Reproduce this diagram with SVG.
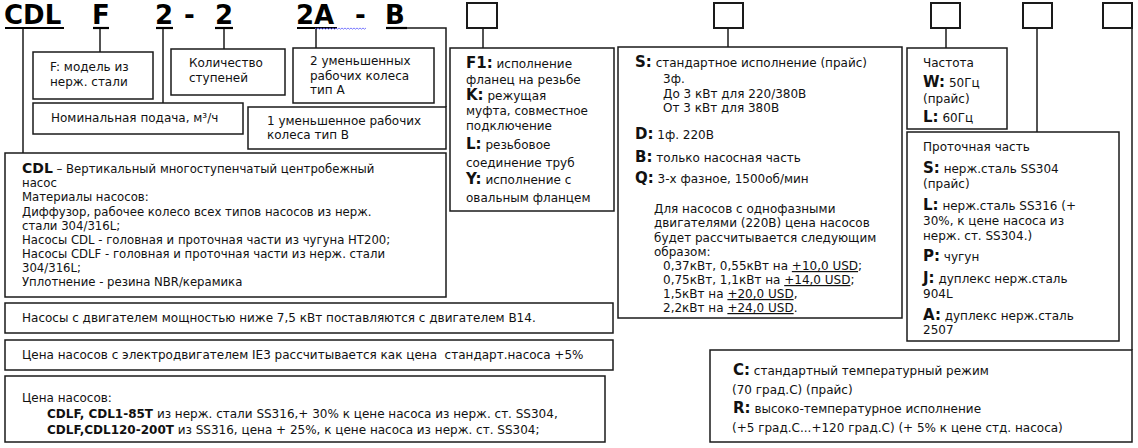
<svg xmlns="http://www.w3.org/2000/svg" width="1138" height="448" viewBox="0 0 1138 448">
<style>
  .bx{fill:#fff;stroke:#1a1a1a;stroke-width:1.5}
  .sq{fill:#fff;stroke:#1a1a1a;stroke-width:2}
  .ln{fill:none;stroke:#1a1a1a;stroke-width:1.5}
  .ul{fill:none;stroke:#000;stroke-width:2.2}
  text{font-family:"DejaVu Sans","Liberation Sans",sans-serif;font-size:12px;fill:#111}
  .hd{font-size:26px;font-weight:bold;fill:#000}
  .sm{font-size:11.7px}
  .b{font-weight:bold;font-size:15px}
  .bs{font-weight:bold;font-size:14px}
  .u{text-decoration:underline}
</style>
<rect width="1138" height="448" fill="#fff"/>

<g id="header">
  <text class="hd" x="4" y="24">CDL</text>
  <text class="hd" x="92" y="24">F</text>
  <text class="hd" x="155" y="24">2</text>
  <text class="hd" x="184" y="24">-</text>
  <text class="hd" x="215" y="24">2</text>
  <text class="hd" x="296" y="24">2A</text>
  <text class="hd" x="355" y="24">-</text>
  <text class="hd" x="385" y="24">B</text>
  <line class="ul" x1="5" y1="28" x2="64" y2="28"/>
  <line class="ul" x1="93" y1="28" x2="109" y2="28"/>
  <line class="ul" x1="156" y1="28" x2="173" y2="28"/>
  <line class="ul" x1="215" y1="28" x2="233" y2="28"/>
  <line class="ul" x1="297" y1="28" x2="337" y2="28"/>
  <line class="ul" x1="386" y1="28" x2="407" y2="28"/>
  <path d="M315 28 l1.5 1.2 l1.5 -1.2 l1.5 1.2 l1.5 -1.2 l1.5 1.2 l1.5 -1.2 l1.5 1.2 l1.5 -1.2 l1.5 1.2 l1.5 -1.2 l1.5 1.2 l1.5 -1.2 l1.5 1.2 l1.5 -1.2 l1.5 1.2 l1.5 -1.2 l1.5 1.2 l1.5 -1.2 l1.5 1.2 l1.5 -1.2 l1.5 1.2 l1.5 -1.2 l1.5 1.2 l1.5 -1.2 l1.5 1.2 l1.5 -1.2 l1.5 1.2 l1.5 -1.2 l1.5 1.2 l1.5 -1.2 l1.5 1.2 l1.5 -1.2 l1.5 1.2 l1.5 -1.2" fill="none" stroke="#6b6bff" stroke-width="0.9"/>
  <rect class="sq" x="467" y="3" width="30" height="25"/>
  <rect class="sq" x="714" y="3" width="29" height="25"/>
  <rect class="sq" x="931" y="3" width="29" height="25"/>
  <rect class="sq" x="1023" y="3" width="29" height="25"/>
  <rect class="sq" x="1103" y="3" width="29" height="25"/>
</g>

<g id="connectors">
  <line class="ln" x1="23" y1="29" x2="23" y2="153"/>
  <line class="ln" x1="100" y1="29" x2="100" y2="52"/>
  <line class="ln" x1="163" y1="29" x2="163" y2="103"/>
  <line class="ln" x1="224" y1="29" x2="224" y2="49"/>
  <line class="ln" x1="316" y1="29" x2="316" y2="48"/>
  <polyline class="ln" points="407,28 446,28 446,107"/>
  <line class="ln" x1="483" y1="28" x2="483" y2="48"/>
  <line class="ln" x1="728" y1="28" x2="728" y2="47"/>
  <line class="ln" x1="946" y1="28" x2="946" y2="48"/>
  <line class="ln" x1="1037" y1="28" x2="1037" y2="132"/>
  <line class="ln" x1="1132" y1="28" x2="1132" y2="350"/>
</g>

<g id="node-f">
  <rect class="bx" x="33" y="52" width="120" height="47"/>
  <text x="50" y="71">F: модель из</text>
  <text x="50" y="86">нерж. стали</text>
</g>
<g id="node-stages">
  <rect class="bx" x="171" y="49" width="114" height="46"/>
  <text x="189" y="67">Количество</text>
  <text x="189" y="82">ступеней</text>
</g>
<g id="node-2a">
  <rect class="bx" x="293" y="48" width="141" height="55"/>
  <text x="310" y="65">2 уменьшенных</text>
  <text x="310" y="80">рабочих колеса</text>
  <text x="310" y="94">тип А</text>
</g>
<g id="node-flow">
  <rect class="bx" x="33" y="103" width="210" height="31"/>
  <text x="51" y="122">Номинальная подача, м³/ч</text>
</g>
<g id="node-1b">
  <rect class="bx" x="248" y="107" width="198" height="42"/>
  <text x="267" y="125">1 уменьшенное рабочих</text>
  <text x="267" y="139">колеса тип В</text>
</g>
<g id="node-cdl">
  <rect class="bx" x="5" y="153" width="441" height="144"/>
  <text class="sm" x="22" y="173"><tspan class="bs">CDL</tspan> – Вертикальный многоступенчатый центробежный</text>
  <text class="sm" x="22" y="187">насос</text>
  <text class="sm" x="22" y="201">Материалы насосов:</text>
  <text class="sm" x="22" y="216">Диффузор, рабочее колесо всех типов насосов из нерж.</text>
  <text class="sm" x="22" y="230">стали 304/316L;</text>
  <text class="sm" x="22" y="244">Насосы CDL - головная и проточная части из чугуна HT200;</text>
  <text class="sm" x="22" y="258">Насосы CDLF - головная и проточная части из нерж. стали</text>
  <text class="sm" x="22" y="272">304/316L;</text>
  <text class="sm" x="22" y="286">Уплотнение - резина NBR/керамика</text>
</g>
<g id="node-connection">
  <rect class="bx" x="450" y="48" width="164" height="163"/>
  <text x="466" y="68"><tspan class="b">F1:</tspan> исполнение</text>
  <text x="466" y="84">фланец на резьбе</text>
  <text x="466" y="100"><tspan class="b">K:</tspan> режущая</text>
  <text x="466" y="115">муфта, совместное</text>
  <text x="466" y="130">подключение</text>
  <text x="466" y="149"><tspan class="b">L:</tspan> резьбовое</text>
  <text x="466" y="167">соединение труб</text>
  <text x="466" y="184"><tspan class="b">Y:</tspan> исполнение с</text>
  <text x="466" y="202">овальным фланцем</text>
</g>
<g id="node-motor">
  <rect class="bx" x="618" y="47" width="284" height="271"/>
  <text x="635" y="67"><tspan class="b">S:</tspan> стандартное исполнение (прайс)</text>
  <text x="663" y="83">3ф.</text>
  <text x="663" y="98">До 3 кВт для 220/380В</text>
  <text x="663" y="112">От 3 кВт для 380В</text>
  <text x="635" y="139"><tspan class="b">D:</tspan> 1ф. 220В</text>
  <text x="635" y="162"><tspan class="b">B:</tspan> только насосная часть</text>
  <text x="635" y="183"><tspan class="b">Q:</tspan> 3-х фазное, 1500об/мин</text>
  <text x="654" y="213">Для насосов с однофазными</text>
  <text x="654" y="227">двигателями (220В) цена насосов</text>
  <text x="654" y="242">будет рассчитывается следующим</text>
  <text x="654" y="256">образом:</text>
  <text x="663" y="270">0,37кВт, 0,55кВт на <tspan class="u">+10,0 USD</tspan>;</text>
  <text x="663" y="284">0,75кВт, 1,1кВт на <tspan class="u">+14,0 USD</tspan>;</text>
  <text x="663" y="298">1,5кВт на <tspan class="u">+20,0 USD</tspan>,</text>
  <text x="663" y="312">2,2кВт на <tspan class="u">+24,0 USD</tspan>.</text>
</g>
<g id="node-frequency">
  <rect class="bx" x="907" y="48" width="100" height="81"/>
  <text x="923" y="67">Частота</text>
  <text x="923" y="87"><tspan class="b">W:</tspan> 50Гц</text>
  <text x="923" y="103">(прайс)</text>
  <text x="923" y="122"><tspan class="b">L:</tspan> 60Гц</text>
</g>
<g id="node-material">
  <rect class="bx" x="907" y="132" width="212" height="209"/>
  <text x="923" y="151">Проточная часть</text>
  <text x="923" y="173"><tspan class="b">S:</tspan> нерж.сталь SS304</text>
  <text x="923" y="188">(прайс)</text>
  <text x="923" y="210"><tspan class="b">L:</tspan> нерж.сталь SS316 (+</text>
  <text x="923" y="225">30%, к цене насоса из</text>
  <text x="923" y="240">нерж. ст. SS304.)</text>
  <text x="923" y="261"><tspan class="b">P:</tspan> чугун</text>
  <text x="923" y="283"><tspan class="b">J:</tspan> дуплекс нерж.сталь</text>
  <text x="923" y="298">904L</text>
  <text x="923" y="320"><tspan class="b">A:</tspan> дуплекс нерж.сталь</text>
  <text x="923" y="334">2507</text>
</g>
<g id="node-temperature">
  <rect class="bx" x="710" y="350" width="422" height="92"/>
  <text x="733" y="375"><tspan class="b">C:</tspan> стандартный температурный режим</text>
  <text x="732" y="394">(70 град.С) (прайс)</text>
  <text x="733" y="413"><tspan class="b">R:</tspan> высоко-температурное исполнение</text>
  <text x="732" y="432">(+5 град.С...+120 град.С) (+ 5% к цене стд. насоса)</text>
</g>
<g id="note-b14">
  <rect class="bx" x="5" y="303" width="608" height="30"/>
  <text x="22" y="322">Насосы с двигателем мощностью ниже 7,5 кВт поставляются с двигателем B14.</text>
</g>
<g id="note-ie3">
  <rect class="bx" x="5" y="340" width="608" height="30"/>
  <text x="22" y="359" style="white-space:pre">Цена насосов с электродвигателем IE3 рассчитывается как цена  стандарт.насоса +5%</text>
</g>
<g id="note-price">
  <rect class="bx" x="5" y="376" width="600" height="66"/>
  <text x="22" y="402">Цена насосов:</text>
  <text x="47" y="418"><tspan font-weight="bold">CDLF, CDL1-85T</tspan> из нерж. стали SS316,+ 30% к цене насоса из нерж. ст. SS304,</text>
  <text x="47" y="434"><tspan font-weight="bold">CDLF,CDL120-200T</tspan> из SS316, цена + 25%, к цене насоса из нерж. ст. SS304;</text>
</g>
</svg>
